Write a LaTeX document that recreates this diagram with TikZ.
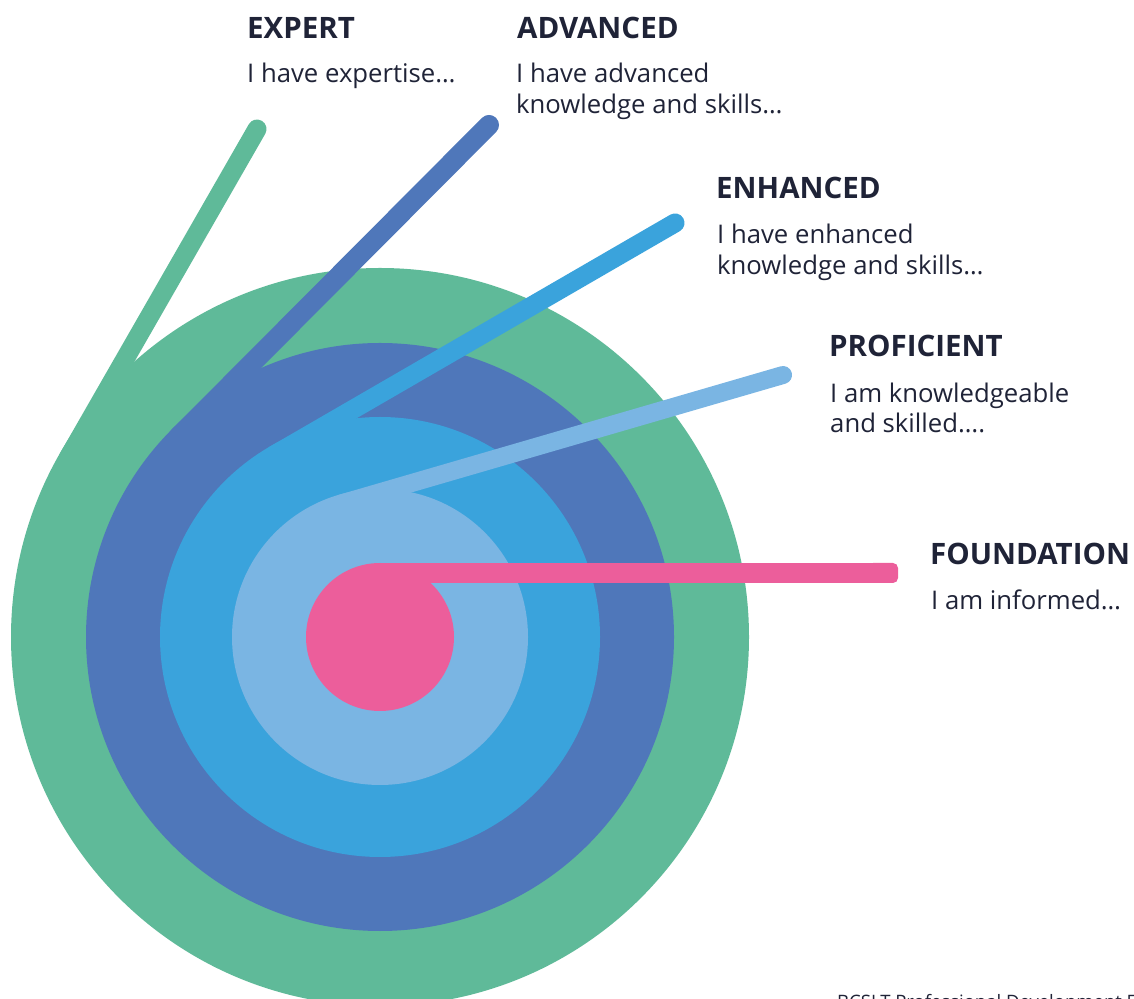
\documentclass[tikz,border=0pt]{standalone}
\usepackage{fontspec}
\setmainfont{Open Sans}
\usetikzlibrary{calc}
\definecolor{cgreen}{HTML}{5FBA99}
\definecolor{cdark}{HTML}{4F77BA}
\definecolor{cmid}{HTML}{3AA3DC}
\definecolor{clight}{HTML}{7AB5E3}
\definecolor{cpink}{HTML}{EC5E9B}
\definecolor{ctext}{HTML}{1F2337}
\begin{document}
\begin{tikzpicture}[x=1pt,y=1pt,
  title/.style={anchor=base west,inner sep=0pt,text=ctext,font=\fontsize{29.5}{35}\selectfont\bfseries},
  body/.style={anchor=base west,inner sep=0pt,text=ctext,font=\fontsize{25.7}{31}\selectfont},
  arm/.style={line cap=round}]
\useasboundingbox (0,0) rectangle (1134,998);
\coordinate (C) at (380,361);
% green ring
\fill[cgreen] (C) circle (369);
\coordinate (gS) at ($(C)+(150.15:359.5)$);
\draw[cgreen,arm,line width=19pt] (gS) -- ++(60.15:379.4) coordinate (gE);
% dark blue ring
\fill[cdark] (C) circle (294);
\coordinate (dS) at ($(C)+(135.13:284)$);
\draw[cdark,arm,line width=20pt] (dS) -- ++(45.13:439.8) coordinate (dE);
% mid blue ring
\fill[cmid] (C) circle (220);
\coordinate (mS) at ($(C)+(120.07:210.5)$);
\draw[cmid,arm,line width=19pt] (mS) -- ++(30.07:462.8) coordinate (mE);
% light blue ring
\fill[clight] (C) circle (148);
\coordinate (lS) at ($(C)+(106.22:139)$);
\draw[clight,arm,line width=18pt] (lS) -- ++(16.22:460.2) coordinate (lE);
% pink
\fill[cpink] (C) circle (74);
\fill[cpink] (380,415) rectangle (888,435);
\fill[cpink,rounded corners=5pt] (868,415) rectangle (898,435);
% texts
\node[title] (t1) at (247,959.5) {EXPERT};
\node[body]  (b1) at (247,915) {I have expertise…};
\node[title] (t2) at (517,959.5) {ADVANCED};
\node[body]  (b2) at (516,915) {I have advanced};
\node[body]  (b2b) at (516,884) {knowledge and skills…};
\node[title] (t3) at (716,799) {ENHANCED};
\node[body]  (b3) at (717,754) {I have enhanced};
\node[body]  (b3b) at (717,723) {knowledge and skills…};
\node[title] (t4) at (829,641) {PROFICIENT};
\node[body]  (b4) at (830,595) {I am knowledgeable};
\node[body]  (b4b) at (830,565) {and skilled….};
\node[title] (t5) at (930,433) {FOUNDATION};
\node[body]  (b5) at (931,388) {I am informed…};
\node[anchor=base west,inner sep=0pt,text=ctext,font=\fontsize{18.5}{22}\selectfont] (foot) at (837,-10) {BCSLT Professional Development Framework};
\end{tikzpicture}
\end{document}
